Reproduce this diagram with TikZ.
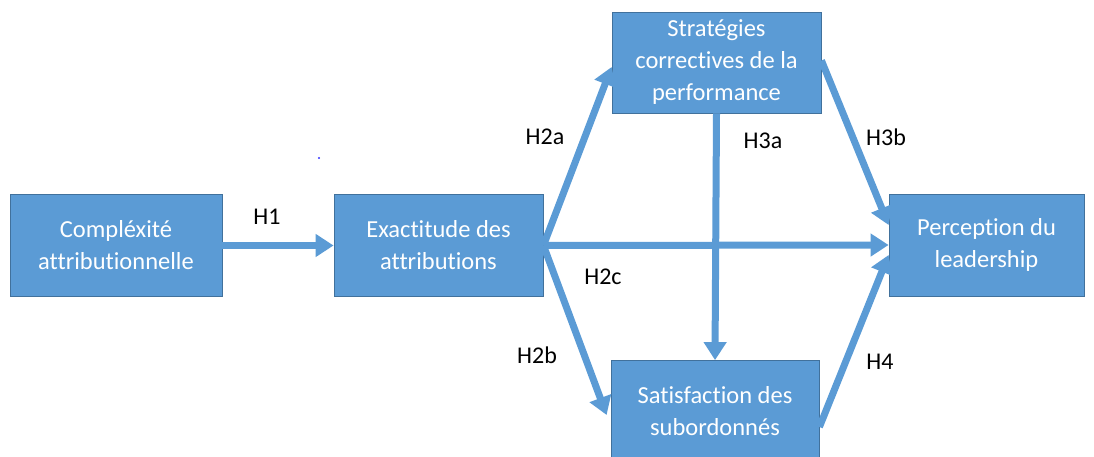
\documentclass[tikz,border=0pt]{standalone}
\usepackage{fontspec}
\setmainfont[Ligatures=NoCommon]{Carlito}
\usepackage{tikz}
\usetikzlibrary{arrows.meta}
\usetikzlibrary{positioning}
\definecolor{boxblue}{HTML}{5B9BD5}
\definecolor{boxedge}{HTML}{41719C}

\begin{document}
\begin{tikzpicture}[line cap=butt,line join=miter,>={Triangle[width=22pt,length=18pt]},x=1pt,y=1pt,
  varbox/.style={rectangle,fill=boxblue,draw=boxedge,line width=0.8pt,text=white,align=center,
    minimum width=209pt,minimum height=102pt,inner sep=0pt,font=\fontsize{24.5}{32}\selectfont},
  hyp/.style={text=black,font=\fontsize{24}{28}\selectfont},
  link/.style={->,draw=boxblue,line width=7pt}]
\clip(0,0) rectangle (1094,457);
% variables
\node[varbox,minimum width=212pt] (compl) at (116,211.5) {Compléxité\\attributionnelle};
\node[varbox] (exact) at (438.5,211.5) {Exactitude des\\attributions};
\node[varbox,minimum height=101pt] (strat) at (716.5,394.5) {Stratégies\\correctives de la\\performance};
\node[varbox,minimum width=195pt] (percep) at (986.5,212) {Perception du\\leadership};
\node[varbox,minimum width=208pt,minimum height=101pt] (satis) at (715,46) {Satisfaction des\\subordonnés};
% liens
\draw[link] (compl.east) -- (exact.west);
\draw[link] (exact.east) -- ([yshift=-4.5pt]strat.west);
\draw[link] (exact.east) -- ([xshift=-4pt,yshift=-4pt]satis.west);
\draw[link] (exact.east) -- (percep.west);
\draw[link] (strat.south) -- (satis.north);
\draw[link] ([yshift=2pt]strat.east) -- ([yshift=20pt]percep.west);
\draw[link] ([yshift=-16pt]satis.east) -- ([yshift=-10pt]percep.west);
% hypotheses
\node[hyp] (h1) at (267,240) {H1};
\node[hyp] (h2a) at (545,320) {H2a};
\node[hyp] (h2b) at (537,102) {H2b};
\node[hyp] (h2c) at (603,180) {H2c};
\node[hyp] (h3a) at (763,316) {H3a};
\node[hyp] (h3b) at (886,320) {H3b};
\node[hyp] (h4) at (880,95) {H4};
\fill [color=blue!80] (319,299) circle (1.2pt);
\end{tikzpicture}
\end{document}
